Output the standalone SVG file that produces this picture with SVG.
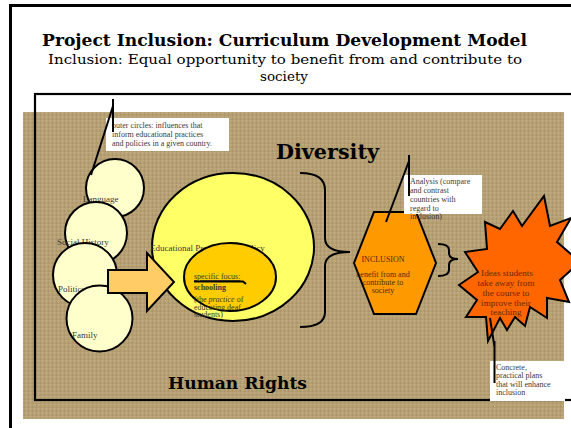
<svg xmlns="http://www.w3.org/2000/svg" width="571" height="428" viewBox="0 0 571 428">
<defs>
<pattern id="burlap" width="4" height="4" patternUnits="userSpaceOnUse">
<rect width="4" height="4" fill="#b39d70"/>
<rect width="4" height="1.5" fill="#c6b288" opacity="0.55"/>
<rect width="1" height="4" fill="#a08a5e" opacity="0.35"/>
<rect x="2" y="2" width="1" height="1" fill="#d2c09a" opacity="0.4"/>
</pattern>
</defs>
<style>
.frame{fill:none;stroke:#000}
.circle{fill:#ffffcc;stroke:#000;stroke-width:2}
.lbl{font-family:"Liberation Serif","Times New Roman",serif;font-size:9px;fill:#3a3a3a}
.note{fill:#ffffff}
.nt{font-family:"Liberation Serif","Times New Roman",serif;font-size:8px;fill:#3a3a3a}
.head{font-family:"DejaVu Serif",serif;font-weight:bold;fill:#000}
.sub{font-family:"DejaVu Serif",serif;fill:#000}
.ln{fill:none;stroke:#000;stroke-width:2}
.hx{font-family:"Liberation Serif","Times New Roman",serif;font-size:8px;fill:#4a2e08;text-anchor:middle}
.st{font-family:"Liberation Serif","Times New Roman",serif;font-size:9.2px;fill:#6a2600;text-anchor:middle}
</style>
<rect width="571" height="428" fill="#ffffff"/>
<g id="background">
<rect x="23" y="112" width="541" height="307" fill="url(#burlap)"/>
<path class="frame" stroke-width="3" d="M10.5,428 L10.5,5.5 L571,5.5"/>
<rect class="frame" stroke-width="2.2" x="35" y="94" width="600" height="306"/>
</g>
<g id="title">
<text class="head" x="42" y="46" font-size="16" textLength="485" lengthAdjust="spacingAndGlyphs">Project Inclusion: Curriculum Development Model</text>
<text class="sub" x="48" y="64" font-size="13.5" textLength="474" lengthAdjust="spacingAndGlyphs">Inclusion: Equal opportunity to benefit from and contribute to</text>
<text class="sub" x="284" y="81" font-size="13.5" text-anchor="middle">society</text>
</g>
<g id="label-diversity">
<text class="head" x="276" y="159" font-size="20" textLength="103" lengthAdjust="spacingAndGlyphs">Diversity</text>
</g>
<g id="label-human-rights">
<text class="head" x="168" y="389" font-size="17" textLength="139" lengthAdjust="spacingAndGlyphs">Human Rights</text>
</g>
<g id="callout-outer-circles">
<rect class="note" x="106" y="118" width="123" height="33"/>
<text class="nt" x="112" y="128">outer circles: influences that</text>
<text class="nt" x="112" y="137">inform educational practices</text>
<text class="nt" x="112" y="146">and policies in a given country.</text>
</g>
<g id="node-language">
<circle class="circle" cx="115" cy="188" r="29"/>
<text class="lbl" x="83" y="202">Language</text>
</g>
<g id="node-social-history">
<circle class="circle" cx="96" cy="233" r="31"/>
<text class="lbl" x="57" y="245">Social History</text>
</g>
<g id="node-politics">
<circle class="circle" cx="85" cy="275" r="32"/>
<text class="lbl" x="58" y="292">Politics</text>
</g>
<g id="node-family">
<circle class="circle" cx="99.5" cy="318.5" r="33"/>
<text class="lbl" x="72" y="338">Family</text>
</g>
<g id="node-educational-practice">
<ellipse cx="233" cy="247" rx="81" ry="74" fill="#ffff66" stroke="#000" stroke-width="2"/>
<text class="lbl" x="150" y="251" font-size="11" fill="#333">Educational Practice and Policy</text>
</g>
<g id="node-schooling">
<ellipse cx="230" cy="277" rx="46" ry="34" fill="#ffcc00" stroke="#000" stroke-width="2"/>
<text class="nt" x="194" y="279" fill="#222" text-decoration="underline">specific focus:</text>
<path class="ln" d="M194,281.5 L243,281.5 L246,284"/>
<text class="nt" x="194" y="290" fill="#222" font-weight="bold">schooling</text>
<text class="nt" x="194" y="302" fill="#444">(the <tspan font-style="italic">practice</tspan> of</text>
<text class="nt" x="194" y="309.5" fill="#444">educating deaf</text>
<text class="nt" x="194" y="317" fill="#444">students)</text>
</g>
<g id="node-inclusion">
<polygon points="374,212 416,212 436,263 416,314 374,314 354,263" fill="#ff9900" stroke="#000" stroke-width="2"/>
<text class="hx" x="383" y="262">INCLUSION</text>
<text class="hx" x="383" y="277">benefit from and</text>
<text class="hx" x="383" y="285">contribute to</text>
<text class="hx" x="383" y="293">society</text>
</g>
<g id="callout-analysis">
<rect class="note" x="404" y="175" width="78" height="39"/>
<text class="nt" x="410" y="184">Analysis (compare</text>
<text class="nt" x="410" y="193">and contrast</text>
<text class="nt" x="410" y="202">countries with</text>
<text class="nt" x="410" y="211">regard to</text>
<text class="nt" x="410" y="219">inclusion)</text>
</g>
<g id="node-ideas">
<polygon points="544,196 550,226 571,218 557,242 580,262 560,280 569,302 547,298 547,318 530,307 525,326 515,317 507,330 500,318 488,341 486,317 466,317 477,300 459,285 478,272 465,252 487,249 485,222 500,229 513,211 522,226" fill="#ff6600" stroke="#000" stroke-width="2" stroke-linejoin="miter"/>
<text class="st" x="507" y="276">Ideas students</text>
<text class="st" x="506" y="286">take away from</text>
<text class="st" x="506" y="296">the course to</text>
<text class="st" x="506" y="305.5">improve their</text>
<text class="st" x="506" y="315">teaching</text>
</g>
<g id="callout-concrete">
<rect class="note" x="490" y="361" width="75" height="40"/>
<text class="nt" x="496" y="370">Concrete,</text>
<text class="nt" x="496" y="378">practical plans</text>
<text class="nt" x="496" y="387">that will enhance</text>
<text class="nt" x="496" y="395">inclusion</text>
</g>
<g id="connectors">
<polygon id="arrow-influence" points="108,270 147,270 147,253 174,282 147,311 147,293 108,293" fill="#ffcc66" stroke="#000" stroke-width="2" stroke-linejoin="miter"/>
<path id="brace-diversity" class="ln" d="M300,173 Q325,173 325,190 L325,238 Q325,252 350,252 Q325,252 325,266 L325,312 Q325,327 300,327"/>
<path id="brace-inclusion" class="ln" d="M438,244 Q449,244 449,250 L449,253 Q449,259 458,259 Q449,259 449,265 L449,270 Q449,276 438,276"/>
<path id="leader-outer" class="ln" d="M113,99 L113,132 M113,106 L91,175"/>
<path id="leader-analysis" class="ln" d="M409,155 L409,196 M409,161 L386,222"/>
<path id="leader-concrete" class="ln" d="M490,318 L494.5,347 M494.5,341 L494.5,383"/>
</g>
</svg>
